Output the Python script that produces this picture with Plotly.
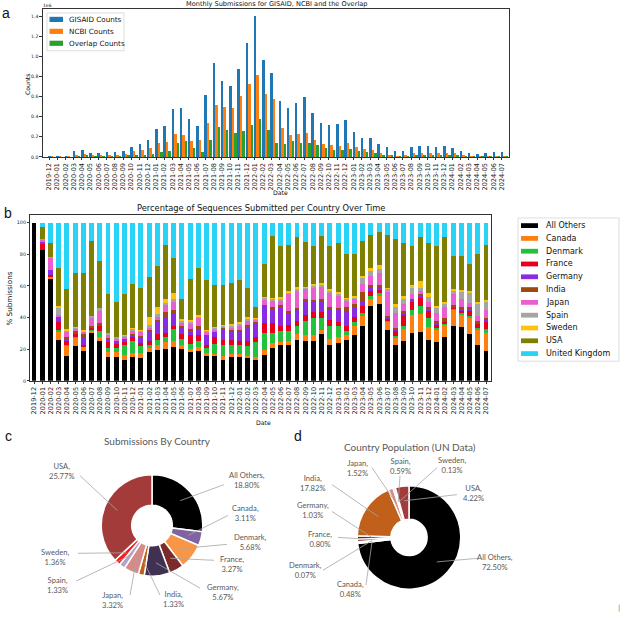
import numpy as np
import plotly.graph_objects as go

W, H = 625, 620
def px(x): return x / W
def py(y): return 1 - y / H

# ---------------- data ----------------
months = ['2019-12'] + [f'{y}-{m:02d}' for y in range(2020, 2024) for m in range(1, 13)] + [f'2024-{m:02d}' for m in range(1, 8)]

# panel a (units of 1e6)
gisaid = [0.001, 0.001, 0.002, 0.060, 0.066, 0.036, 0.036, 0.046, 0.050, 0.053,
          0.092, 0.122, 0.168, 0.277, 0.303, 0.471, 0.484, 0.372, 0.306, 0.616,
          0.932, 0.754, 0.700, 0.876, 1.130, 1.395, 0.965, 0.833, 0.553, 0.487,
          0.530, 0.596, 0.430, 0.333, 0.316, 0.330, 0.362, 0.250, 0.184, 0.181,
          0.125, 0.095, 0.056, 0.056, 0.095, 0.109, 0.102, 0.099, 0.109, 0.086,
          0.053, 0.033, 0.023, 0.033, 0.043, 0.046]
ncbi = [0.0005, 0.0005, 0.001, 0.020, 0.025, 0.015, 0.015, 0.020, 0.015, 0.025,
        0.055, 0.065, 0.085, 0.140, 0.150, 0.225, 0.215, 0.160, 0.165, 0.340,
        0.515, 0.490, 0.480, 0.600, 0.720, 0.815, 0.625, 0.570, 0.285, 0.215,
        0.225, 0.235, 0.165, 0.130, 0.120, 0.110, 0.135, 0.092, 0.075, 0.066,
        0.036, 0.020, 0.005, 0.010, 0.033, 0.036, 0.033, 0.033, 0.040, 0.033,
        0.010, 0.005, 0.002, 0.003, 0.004, 0.005]
overlap = [0, 0, 0, 0.005, 0.010, 0.005, 0.005, 0.005, 0.005, 0.010,
           0.015, 0.020, 0.030, 0.045, 0.060, 0.135, 0.160, 0.090, 0.050, 0.165,
           0.295, 0.270, 0.235, 0.260, 0.320, 0.375, 0.265, 0.135, 0.130, 0.155,
           0.140, 0.140, 0.115, 0.085, 0.065, 0.065, 0.075, 0.055, 0.045, 0.035,
           0.020, 0.010, 0.002, 0.003, 0.015, 0.020, 0.015, 0.015, 0.015, 0.015,
           0.005, 0.002, 0.001, 0.001, 0.001, 0.001]
db_names = ['GISAID Counts', 'NCBI Counts', 'Overlap Counts']
db_colors = ['#1f77b4', '#ff7f0e', '#2ca02c']

# panel b (% of submissions)
b_countries = ['All Others', 'Canada', 'Denmark', 'France', 'Germany', 'India',
               'Japan', 'Spain', 'Sweden', 'USA', 'United Kingdom']
b_colors = ['#000000', '#ff7f0e', '#22c23a', '#e6001e', '#8a2be2', '#9c4a10',
            '#ea5fd0', '#a5a5a5', '#ffc20e', '#808000', '#29d3f5']
p_others = [100, 83, 65, 26, 16, 22, 19, 30.5, 25.5, 15, 15, 13, 15, 14.5, 18, 19.5, 20, 21.5, 20, 18,
            19, 15.5, 15.5, 13.5, 15, 15, 14.5, 13.5, 16.5, 21, 23, 23, 26, 25.5, 25, 29.5, 22.5, 24, 26, 29,
            35, 47.5, 48.5, 32.5, 22.5, 25, 30.5, 31, 26, 24.5, 27.5, 35, 34, 29.5, 22.5, 19]
p_canada = [0, 0, 1, 5, 6.5, 5.5, 2.5, 1.5, 2.5, 3, 3, 3.5, 2.5, 3, 2.5, 3.5, 4.5, 4, 2.5, 2,
            2.5, 2, 1.5, 2, 2, 2, 1.5, 1.5, 3, 3, 1.5, 2.5, 3.5, 3.5, 4, 2.5, 4, 3.5, 3, 5.5,
            6, 4.5, 5.5, 5, 4.5, 8, 11, 11.5, 8, 7.5, 8, 10, 8, 10, 9.5, 11.5]
p_denmark = [0, 0, 0, 1, 0.5, 0.5, 0.5, 0.5, 3.5, 3, 2.5, 6, 8, 4.5, 2.5, 3, 3, 7.5, 4, 3.5,
             4, 3.5, 6.5, 7, 5.5, 5.5, 6, 9.5, 10.5, 6.5, 7, 6, 5.5, 9, 10.5, 8, 8, 7, 2.5, 2.5,
             2, 2, 1.5, 1, 1.5, 2, 3.5, 5, 5.5, 1.5, 0.5, 0.5, 1, 1.5, 1.5, 2.5]
p_france = [0, 3.5, 1, 5, 2.5, 2, 1, 1, 3.5, 3.5, 3, 2, 2, 2, 2.5, 3.5, 3, 2, 3, 5.5,
            3.5, 1.5, 4, 3.5, 3.5, 3, 3.5, 3.5, 6.5, 6, 3.5, 4, 3, 3.5, 4, 3.5, 4, 3, 3.5, 3.5,
            4.5, 3, 2, 1, 3.5, 6.5, 5, 5, 5, 2, 1.5, 1, 1.5, 3, 2.5, 4]
p_germany = [0, 1.5, 3, 3, 1, 0.5, 4, 0.5, 0.5, 2, 1.5, 1.5, 1.5, 4, 6.5, 7.5, 10, 7.5, 4, 2.5,
             4, 6, 3.5, 6.5, 5, 5.5, 9, 9, 11, 9.5, 11, 6.5, 7, 8.5, 7, 6.5, 6.5, 7.5, 9.5, 6,
             2.5, 2, 1, 1, 1, 2, 1.5, 1.5, 1, 1, 1, 0.5, 1, 1.5, 1, 2]
p_india = [0, 0, 0, 0.5, 1, 1.5, 2.5, 0.5, 1, 0.5, 0.5, 0.5, 0.5, 0.5, 0.5, 1.5, 3, 2.5, 1.5, 1.5,
           1.5, 0.5, 0.5, 1, 1, 1, 1, 0.5, 0.5, 1, 2, 2.5, 1, 1.5, 0.5, 1.5, 1.5, 1, 2, 2,
           6, 1.5, 2, 0.5, 0.5, 1, 0.5, 1, 1, 1.5, 1, 1, 1, 1, 1, 0.5]
p_japan = [0, 1.5, 8, 1, 3.5, 1, 1.5, 5.5, 8, 2, 1.5, 1.5, 2.5, 2.5, 1, 2.5, 4.5, 5, 2, 3.5,
           5.5, 2, 1, 1, 2, 3, 2.5, 1.5, 3.5, 4, 3, 10.5, 11, 7, 8, 8.5, 9.5, 8, 4.5, 3.5,
           5, 6, 7.5, 15, 9.5, 4, 3, 2, 3.5, 5, 7, 7, 5, 3, 3, 5.5]
p_spain = [0, 0.5, 0.5, 5, 1, 0.5, 0.5, 1, 1.5, 1.5, 0.5, 0.5, 1, 1, 2, 1, 1, 2, 1, 1,
           1, 1, 1, 0.5, 1, 1, 1, 0.5, 1, 1, 1, 1, 1, 0.5, 1.5, 1, 1, 1, 1, 1,
           4.5, 3, 2.5, 2.5, 4, 3.5, 3.5, 2, 3, 3.5, 2.5, 2, 5, 6.5, 8, 5]
p_sweden = [0, 0, 0, 1, 1, 0.5, 0.5, 0, 0, 0, 0, 0.5, 0.5, 0.5, 5, 4.5, 3, 3.5, 1, 1,
            0.5, 0.5, 0.5, 0.5, 1, 1.5, 1.5, 0.5, 0.5, 0.5, 1, 1, 1.5, 0.5, 1, 1, 1, 1.5, 0.5, 1,
            1, 2, 3, 0.5, 1.5, 1.5, 2, 4, 2.5, 1, 1, 1, 1, 1, 1, 1]
p_usa = [0, 7.5, 8.5, 24, 25, 34, 36, 47.5, 29.5, 24.5, 22.5, 26, 27.5, 26, 25, 26, 34, 22.5, 13, 26,
         30, 31, 26.5, 25, 26, 26, 18, 6.5, 21, 39, 32, 29, 31.5, 28.5, 23.5, 29.5, 27.5, 30.5, 28, 26,
         22, 21, 20.5, 33, 41, 33.5, 25, 28, 31.5, 38, 41, 21, 21.5, 17, 30, 35]
p_uk = [0, 2.5, 13, 28.5, 42, 32, 32, 11.5, 24.5, 45, 50, 45, 39, 41.5, 34.5, 27.5, 14, 22, 48, 35.5,
        28.5, 36.5, 39.5, 39.5, 38, 36.5, 41.5, 53.5, 26, 8.5, 15, 14, 9, 12, 15, 8.5, 14.5, 13, 19.5, 20,
        11.5, 7.5, 6, 8, 10.5, 13, 14.5, 9, 13, 14.5, 9, 21, 21, 26, 20, 14]
b_series = [p_others, p_canada, p_denmark, p_france, p_germany, p_india,
            p_japan, p_spain, p_sweden, p_usa, p_uk]

# panels c and d (percent)
pie_countries = ['All Others', 'Canada', 'Denmark', 'France', 'Germany', 'India',
                 'Japan', 'Spain', 'Sweden', 'USA']
sub_pct = [18.80, 3.11, 5.68, 3.27, 5.67, 1.33, 3.32, 1.33, 1.36, 25.77]
pop_pct = [72.50, 0.48, 0.07, 0.80, 1.03, 17.82, 1.52, 0.59, 0.13, 4.22]
pie_colors = ['#000000', '#8064A2', '#F79646', '#7B2C2A', '#403152', '#C0601A',
              '#D58B89', '#B3A2C7', '#FF1A1A', '#A33B3A']

# ---------------- figure ----------------
fig = go.Figure()
xi = np.arange(len(months))
shift_a = [0.0, 0.3, 0.6]
for name, vals, col, sh in zip(db_names, [gisaid, ncbi, overlap], db_colors, shift_a):
    fig.add_trace(go.Bar(x=xi + sh, y=vals, width=0.3, marker=dict(color=col, line_width=0),
                         name=name, xaxis='x', yaxis='y', showlegend=False))

for name, vals, col in zip(b_countries, b_series, b_colors):
    fig.add_trace(go.Bar(x=xi, y=vals, width=0.6, marker=dict(color=col, line_width=0),
                         name=name, xaxis='x2', yaxis='y2', showlegend=False))

# pies
pie_geo = {'c': (152, 528, 51, 0.4), 'd': (409, 540, 52, 0.35)}
for key, vals in (('c', sub_pct), ('d', pop_pct)):
    cx, cy, R, hole = pie_geo[key]
    fig.add_trace(go.Pie(labels=pie_countries, values=vals, hole=hole, sort=False,
                         direction='clockwise', rotation=0, textinfo='none',
                         marker=dict(colors=pie_colors, line=dict(color='white', width=1.5)),
                         domain=dict(x=[px(cx - R), px(cx + R)], y=[py(cy + R), py(cy - R)]),
                         showlegend=False, hoverinfo='label+value'))

axis_common = dict(showline=True, linecolor='#333', linewidth=0.8, mirror=True,
                   ticks='outside', ticklen=2.5, tickwidth=0.6, tickcolor='#333',
                   showgrid=False, zeroline=False,
                   tickfont=dict(family='DejaVu Sans', size=6.6, color='#222'))

fig.update_layout(
    width=W, height=H, margin=dict(l=0, r=0, t=0, b=0),
    paper_bgcolor='white', plot_bgcolor='white', barmode='stack', bargap=0,
    xaxis=dict(domain=[px(42.7), px(509.3)], range=[-0.77, 55.92], tickmode='array',
               tickvals=xi, ticktext=months, tickangle=-90, anchor='y', **axis_common),
    yaxis=dict(domain=[py(157.7), py(9.3)], range=[0, 1.469], tickmode='array',
               tickvals=[0, 0.2, 0.4, 0.6, 0.8, 1.0, 1.2, 1.4],
               ticktext=['0.0', '0.2', '0.4', '0.6', '0.8', '1.0', '1.2', '1.4'], anchor='x',
               **{**axis_common, 'tickfont': dict(family='DejaVu Sans', size=4.6, color='#222')}),
    xaxis2=dict(domain=[px(30.3), px(490.7)], range=[-0.49, 55.54], tickmode='array',
                tickvals=xi, ticktext=months, tickangle=-90, anchor='y2', **axis_common),
    yaxis2=dict(domain=[py(382.7), py(216)], range=[0, 104.9], tickmode='array',
                tickvals=[0, 20, 40, 60, 80, 100], anchor='x2',
                **{**axis_common, 'tickfont': dict(family='DejaVu Sans', size=4.8, color='#222')}),
)

ann = []
shapes = []
def text(x, y, s, size, family='DejaVu Sans', color='#111', xanchor='center', yanchor='middle', angle=0, align='center'):
    ann.append(dict(x=px(x), y=py(y), xref='paper', yref='paper', text=s, showarrow=False,
                    font=dict(family=family, size=size, color=color), xanchor=xanchor,
                    yanchor=yanchor, textangle=angle, align=align, borderpad=0))

# titles & axis labels
text(276, 4.3, 'Monthly Submissions for GISAID, NCBI and the Overlap', 6.6)
text(42, 5.5, '1e6', 4.5, xanchor='left')
text(27.5, 85, 'Counts', 6.2, angle=-90)
text(280, 193.5, 'Date', 6.2)
text(261, 209.5, 'Percentage of Sequences Submitted per Country Over Time', 8.3)
text(10, 300, '% Submissions', 7.2, angle=-90)
text(263, 424.5, 'Date', 6.2)
# panel letters
text(1, 13, 'a', 14, family='Liberation Sans', xanchor='left')
text(3, 214, 'b', 14, family='Liberation Sans', xanchor='left')
text(4, 438, 'c', 14, family='Liberation Sans', xanchor='left')
text(293, 438, 'd', 14, family='Liberation Sans', xanchor='left')
text(619, 611, '|', 7, color='#777')

# legend for panel a
shapes.append(dict(type='rect', xref='paper', yref='paper', x0=px(47), x1=px(124), y0=py(51), y1=py(13),
                   line=dict(color='#d4d4d4', width=0.8), fillcolor='white', layer='above'))
for k, (name, col) in enumerate(zip(db_names, db_colors)):
    yc = 19.5 + 12 * k
    shapes.append(dict(type='rect', xref='paper', yref='paper', x0=px(49.5), x1=px(63),
                       y0=py(yc + 2.6), y1=py(yc - 2.6), line_width=0, fillcolor=col, layer='above'))
    text(68, yc, name, 7.2, xanchor='left')

# legend for panel b
shapes.append(dict(type='rect', xref='paper', yref='paper', x0=px(518), x1=px(619), y0=py(363), y1=py(219),
                   line=dict(color='#d4d4d4', width=0.8), fillcolor='white', layer='above'))
for k, (name, col) in enumerate(zip(b_countries, b_colors)):
    yc = 226.7 + 12.86 * k
    shapes.append(dict(type='rect', xref='paper', yref='paper', x0=px(521), x1=px(538),
                       y0=py(yc + 2.4), y1=py(yc - 2.4), line_width=0, fillcolor=col, layer='above'))
    text(545, yc, name, 8, xanchor='left')

# pie titles
text(157, 443, 'Submissions By Country', 10, family='Lato', color='#595959')
text(410, 449, 'Country Population (UN Data)', 10, family='Lato', color='#595959')

# pie labels + leader lines
lab_c = {'All Others': ((247, 482), (224, 487)), 'Canada': ((245, 515), (228, 518)),
         'Denmark': ((250, 545), (227, 547)), 'France': ((232, 567), (214, 563)),
         'Germany': ((223, 595), (200, 591)), 'India': ((173, 602), (160, 598)),
         'Japan': ((113, 603), (130, 598)), 'Spain': ((58, 588), (76, 584)),
         'Sweden': ((55, 560), (78, 556)), 'USA': ((62, 473), (80, 478))}
lab_d = {'All Others': ((495, 565), (478, 561)), 'Canada': ((350, 592), (366, 588)),
         'Denmark': ((305, 573), (323, 573)), 'France': ((320, 542), (338, 540)),
         'Germany': ((313, 512), (332, 514)), 'India': ((313, 485), (332, 487)),
         'Japan': ((357, 470), (372, 470)), 'Spain': ((400, 468), (400, 478)),
         'Sweden': ((452, 467), (437, 470)), 'USA': ((473, 495), (457, 497))}
for key, vals, labs in (('c', sub_pct, lab_c), ('d', pop_pct, lab_d)):
    cx, cy, R, hole = pie_geo[key]
    v = np.array(vals, dtype=float)
    mids = (np.cumsum(v) - v / 2) / v.sum() * 2 * np.pi
    rr = R * (hole + 1) / 2 + 2
    for name, val, a in zip(pie_countries, vals, mids):
        (tx, ty), (sx, sy) = labs[name]
        ex, ey = cx + rr * np.sin(a), cy - rr * np.cos(a)
        shapes.append(dict(type='line', xref='paper', yref='paper', x0=px(sx), y0=py(sy),
                           x1=px(ex), y1=py(ey), line=dict(color='#a6a6a6', width=0.8), layer='above'))
        text(tx, ty, f'{name},<br>{val:.2f}%', 7.6, family='Lato', color='#595959')

fig.update_layout(annotations=ann, shapes=shapes)
fig.write_html('out.html', config={'displayModeBar': False},
               post_script="document.body.style.margin='0';document.body.style.overflow='hidden';")
